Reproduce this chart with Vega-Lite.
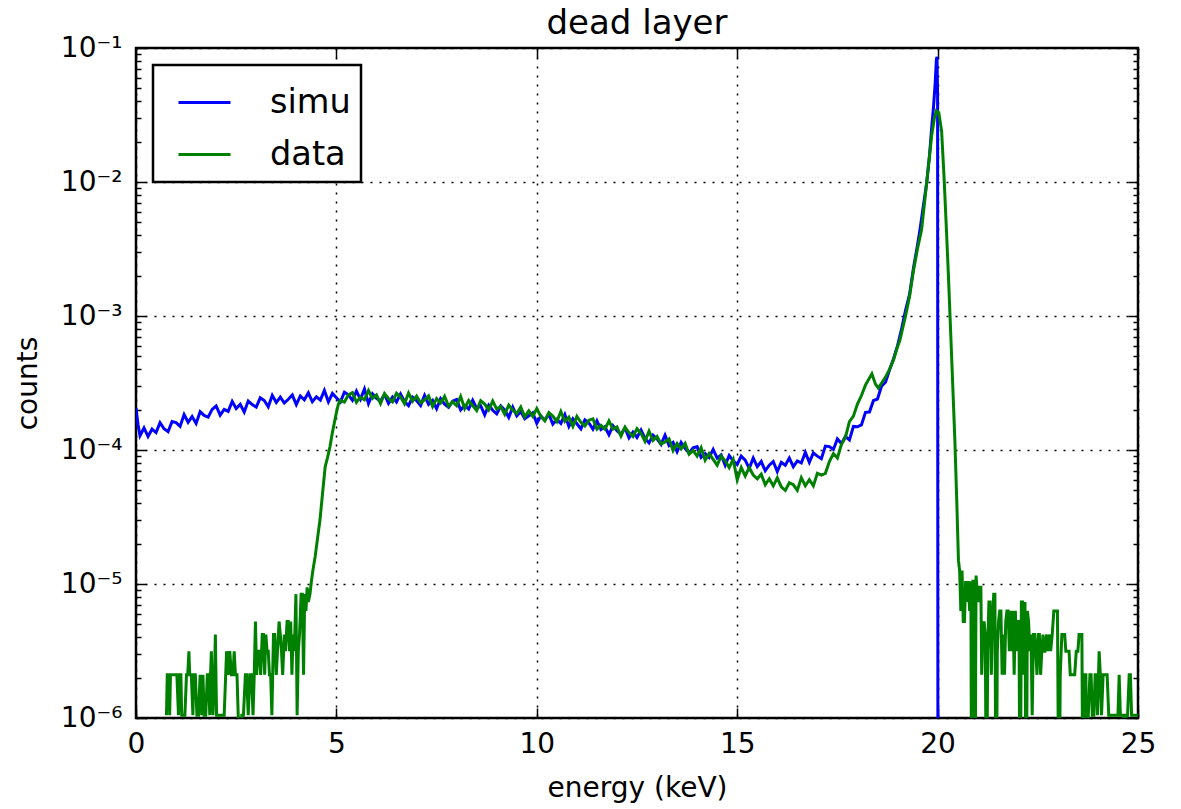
{
"$schema": "https://vega.github.io/schema/vega-lite/v6.json",
"width": 1002,
"height": 670,
"autosize": {"type": "none"},
"padding": {"left": 136, "top": 48, "right": 43, "bottom": 91},
"background": "white",
"config": {
  "font": "DejaVu Sans",
  "view": {"stroke": "black", "strokeWidth": 2.5},
  "axis": {"domain": false, "labelFont": "DejaVu Sans", "labelColor": "black", "titleColor": "black", "titleFont": "DejaVu Sans", "titleFontWeight": "normal", "tickColor": "black", "tickWidth": 1.5, "gridColor": "black", "gridDash": [2, 7], "gridWidth": 1.5, "labelFlush": false, "labelOverlap": false, "labelBound": false}
},
"title": {"text": "dead layer", "fontSize": 34, "fontWeight": "normal", "font": "DejaVu Sans", "color": "black", "offset": -7},
"datasets": {
"simu": [
{"e":0,"v":2.05e-4},{"e":0.05,"v":1.55e-4},{"e":0.1,"v":1.28e-4},{"e":0.2,"v":1.46e-4},{"e":0.3,"v":1.26e-4},{"e":0.4,"v":1.43e-4},{"e":0.5,"v":1.35e-4},{"e":0.6,"v":1.60e-4},{"e":0.7,"v":1.44e-4},{"e":0.8,"v":1.37e-4},{"e":0.9,"v":1.63e-4},
{"e":1.0,"v":1.60e-4},{"e":1.1,"v":1.50e-4},{"e":1.2,"v":1.84e-4},{"e":1.3,"v":1.61e-4},{"e":1.4,"v":1.78e-4},{"e":1.5,"v":1.58e-4},{"e":1.6,"v":1.93e-4},{"e":1.7,"v":1.81e-4},{"e":1.8,"v":1.76e-4},{"e":1.9,"v":2.01e-4},
{"e":2.0,"v":2.13e-4},{"e":2.1,"v":1.82e-4},{"e":2.2,"v":2.01e-4},{"e":2.3,"v":1.94e-4},{"e":2.4,"v":2.30e-4},{"e":2.5,"v":2.04e-4},{"e":2.6,"v":2.19e-4},{"e":2.7,"v":1.92e-4},{"e":2.8,"v":2.32e-4},{"e":2.9,"v":2.18e-4},
{"e":3.0,"v":2.09e-4},{"e":3.1,"v":2.45e-4},{"e":3.2,"v":2.34e-4},{"e":3.3,"v":2.10e-4},{"e":3.4,"v":2.56e-4},{"e":3.5,"v":2.26e-4},{"e":3.6,"v":2.48e-4},{"e":3.7,"v":2.24e-4},{"e":3.8,"v":2.39e-4},{"e":3.9,"v":2.57e-4},
{"e":4.0,"v":2.18e-4},{"e":4.1,"v":2.53e-4},{"e":4.2,"v":2.37e-4},{"e":4.3,"v":2.67e-4},{"e":4.4,"v":2.29e-4},{"e":4.5,"v":2.49e-4},{"e":4.6,"v":2.36e-4},{"e":4.7,"v":2.78e-4},{"e":4.8,"v":2.29e-4},{"e":4.9,"v":2.64e-4},
{"e":5.0,"v":2.45e-4},{"e":5.1,"v":2.28e-4},{"e":5.2,"v":2.70e-4},{"e":5.3,"v":2.58e-4},{"e":5.4,"v":2.35e-4},{"e":5.5,"v":2.75e-4},{"e":5.6,"v":2.39e-4},{"e":5.7,"v":2.85e-4},{"e":5.8,"v":2.22e-4},{"e":5.9,"v":2.63e-4},
{"e":6.0,"v":2.43e-4},{"e":6.1,"v":2.32e-4},{"e":6.2,"v":2.60e-4},{"e":6.3,"v":2.23e-4},{"e":6.4,"v":2.48e-4},{"e":6.5,"v":2.28e-4},{"e":6.6,"v":2.62e-4},{"e":6.7,"v":2.30e-4},{"e":6.8,"v":2.14e-4},{"e":6.9,"v":2.48e-4},
{"e":7.0,"v":2.34e-4},{"e":7.1,"v":2.15e-4},{"e":7.2,"v":2.56e-4},{"e":7.3,"v":2.19e-4},{"e":7.4,"v":2.35e-4},{"e":7.5,"v":2.03e-4},{"e":7.6,"v":2.42e-4},{"e":7.7,"v":2.20e-4},{"e":7.8,"v":2.08e-4},{"e":7.9,"v":2.31e-4},
{"e":8.0,"v":2.38e-4},{"e":8.1,"v":1.99e-4},{"e":8.2,"v":2.15e-4},{"e":8.3,"v":2.02e-4},{"e":8.4,"v":2.35e-4},{"e":8.5,"v":2.04e-4},{"e":8.6,"v":2.14e-4},{"e":8.7,"v":1.83e-4},{"e":8.8,"v":2.16e-4},{"e":8.9,"v":1.98e-4},
{"e":9.0,"v":1.86e-4},{"e":9.1,"v":2.13e-4},{"e":9.2,"v":1.99e-4},{"e":9.3,"v":1.75e-4},{"e":9.4,"v":2.09e-4},{"e":9.5,"v":1.80e-4},{"e":9.6,"v":1.94e-4},{"e":9.7,"v":1.71e-4},{"e":9.8,"v":1.80e-4},{"e":9.9,"v":1.89e-4},
{"e":10.0,"v":1.58e-4},{"e":10.1,"v":1.80e-4},{"e":10.2,"v":1.67e-4},{"e":10.3,"v":1.85e-4},{"e":10.4,"v":1.56e-4},{"e":10.5,"v":1.69e-4},{"e":10.6,"v":1.58e-4},{"e":10.7,"v":1.84e-4},{"e":10.8,"v":1.50e-4},{"e":10.9,"v":1.71e-4},
{"e":11.0,"v":1.57e-4},{"e":11.1,"v":1.44e-4},{"e":11.2,"v":1.68e-4},{"e":11.3,"v":1.59e-4},{"e":11.4,"v":1.43e-4},{"e":11.5,"v":1.65e-4},{"e":11.6,"v":1.42e-4},{"e":11.7,"v":1.49e-4},{"e":11.8,"v":1.30e-4},{"e":11.9,"v":1.52e-4},
{"e":12.0,"v":1.39e-4},{"e":12.1,"v":1.31e-4},{"e":12.2,"v":1.46e-4},{"e":12.3,"v":1.23e-4},{"e":12.4,"v":1.36e-4},{"e":12.5,"v":1.24e-4},{"e":12.6,"v":1.41e-4},{"e":12.7,"v":1.22e-4},{"e":12.8,"v":1.13e-4},{"e":12.9,"v":1.29e-4},
{"e":13.0,"v":1.21e-4},{"e":13.1,"v":1.10e-4},{"e":13.2,"v":1.29e-4},{"e":13.3,"v":1.08e-4},{"e":13.4,"v":1.14e-4},{"e":13.5,"v":0.97e-4},{"e":13.6,"v":1.14e-4},{"e":13.7,"v":1.03e-4},{"e":13.8,"v":0.95e-4},{"e":13.9,"v":1.04e-4},
{"e":14.0,"v":1.06e-4},{"e":14.1,"v":0.88e-4},{"e":14.2,"v":0.94e-4},{"e":14.3,"v":0.88e-4},{"e":14.4,"v":1.01e-4},{"e":14.5,"v":0.87e-4},{"e":14.6,"v":0.92e-4},{"e":14.7,"v":0.77e-4},{"e":14.8,"v":0.91e-4},{"e":14.9,"v":0.83e-4},
{"e":15.0,"v":0.78e-4},{"e":15.1,"v":0.90e-4},{"e":15.2,"v":0.84e-4},{"e":15.3,"v":0.73e-4},{"e":15.4,"v":0.87e-4},{"e":15.5,"v":0.75e-4},{"e":15.6,"v":0.82e-4},{"e":15.7,"v":0.70e-4},{"e":15.8,"v":0.77e-4},{"e":15.9,"v":0.82e-4},
{"e":16.0,"v":0.69e-4},{"e":16.1,"v":0.81e-4},{"e":16.2,"v":0.77e-4},{"e":16.3,"v":0.87e-4},{"e":16.4,"v":0.75e-4},{"e":16.5,"v":0.83e-4},{"e":16.6,"v":0.80e-4},{"e":16.7,"v":0.96e-4},{"e":16.8,"v":0.81e-4},{"e":16.9,"v":0.95e-4},
{"e":17.0,"v":0.90e-4},{"e":17.1,"v":0.86e-4},{"e":17.2,"v":1.07e-4},{"e":17.3,"v":1.06e-4},{"e":17.4,"v":1.01e-4},{"e":17.5,"v":1.21e-4},{"e":17.6,"v":1.12e-4},{"e":17.7,"v":1.26e-4},{"e":17.8,"v":1.19e-4},{"e":17.9,"v":1.50e-4},
{"e":18.0,"v":1.49e-4},{"e":18.1,"v":1.54e-4},{"e":18.2,"v":1.91e-4},{"e":18.3,"v":1.92e-4},{"e":18.4,"v":2.34e-4},{"e":18.5,"v":2.40e-4},{"e":18.6,"v":2.99e-4},{"e":18.7,"v":3.20e-4},{"e":18.8,"v":3.95e-4},{"e":18.9,"v":4.8e-4},
{"e":19.0,"v":6.0e-4},{"e":19.1,"v":8.0e-4},{"e":19.2,"v":1.1e-3},{"e":19.3,"v":1.45e-3},{"e":19.4,"v":2.3e-3},{"e":19.5,"v":3.4e-3},{"e":19.56,"v":4.4e-3},{"e":19.65,"v":6.8e-3},{"e":19.73,"v":1.0e-2},{"e":19.8,"v":1.6e-2},
{"e":19.85,"v":2.5e-2},{"e":19.9,"v":3.7e-2},{"e":19.94,"v":5.5e-2},{"e":19.97,"v":8.2e-2},{"e":19.985,"v":8.6e-2},{"e":20.0,"v":4.5e-2},{"e":20.01,"v":1e-8}
],
"data": [
{"e":0.76,"v":1.05e-6},{"e":0.78,"v":2.1e-6},{"e":0.82,"v":2.1e-6},{"e":0.84,"v":1.05e-6},{"e":0.86,"v":2.1e-6},{"e":0.90,"v":2.1e-6},{"e":0.94,"v":2.1e-6},{"e":0.98,"v":2.1e-6},{"e":1.02,"v":2.1e-6},{"e":1.06,"v":1.05e-6},
{"e":1.08,"v":2.1e-6},{"e":1.12,"v":2.1e-6},{"e":1.14,"v":1.05e-6},{"e":1.18,"v":1.05e-6},{"e":1.22,"v":1.05e-6},{"e":1.26,"v":2.1e-6},{"e":1.29,"v":2.1e-6},{"e":1.32,"v":3.15e-6},{"e":1.34,"v":2.1e-6},{"e":1.38,"v":2.1e-6},
{"e":1.42,"v":1.05e-6},{"e":1.44,"v":2.1e-6},{"e":1.48,"v":2.1e-6},{"e":1.52,"v":1.05e-6},{"e":1.56,"v":1.05e-6},{"e":1.60,"v":2.1e-6},{"e":1.64,"v":1.05e-6},{"e":1.67,"v":2.1e-6},{"e":1.70,"v":1.05e-6},{"e":1.74,"v":1.05e-6},
{"e":1.78,"v":2.1e-6},{"e":1.81,"v":2.1e-6},{"e":1.84,"v":1.05e-6},{"e":1.86,"v":2.1e-6},{"e":1.88,"v":3.15e-6},{"e":1.92,"v":1.05e-6},{"e":1.96,"v":2.1e-6},{"e":1.98,"v":4.2e-6},{"e":2.01,"v":1.05e-6},{"e":2.05,"v":1.05e-6},
{"e":2.10,"v":1.05e-6},{"e":2.15,"v":1.05e-6},{"e":2.20,"v":1.05e-6},{"e":2.26,"v":3.15e-6},{"e":2.30,"v":2.1e-6},{"e":2.34,"v":3.15e-6},{"e":2.38,"v":2.1e-6},{"e":2.42,"v":2.1e-6},{"e":2.45,"v":3.15e-6},{"e":2.48,"v":2.1e-6},
{"e":2.52,"v":2.1e-6},{"e":2.55,"v":1.05e-6},{"e":2.60,"v":1e-7},{"e":2.64,"v":1.05e-6},{"e":2.68,"v":1.05e-6},{"e":2.73,"v":2.1e-6},{"e":2.76,"v":2.1e-6},{"e":2.80,"v":1.05e-6},{"e":2.84,"v":2.1e-6},{"e":2.88,"v":2.1e-6},
{"e":2.92,"v":1.05e-6},{"e":2.95,"v":2.1e-6},{"e":2.98,"v":5.25e-6},{"e":3.01,"v":2.1e-6},{"e":3.04,"v":3.15e-6},{"e":3.08,"v":3.15e-6},{"e":3.11,"v":2.1e-6},{"e":3.15,"v":4.2e-6},{"e":3.18,"v":4.2e-6},{"e":3.21,"v":2.1e-6},
{"e":3.24,"v":4.2e-6},{"e":3.27,"v":3.15e-6},{"e":3.30,"v":3.15e-6},{"e":3.33,"v":2.1e-6},{"e":3.36,"v":2.1e-6},{"e":3.39,"v":1.05e-6},{"e":3.43,"v":4.2e-6},{"e":3.46,"v":4.2e-6},{"e":3.50,"v":2.1e-6},{"e":3.53,"v":3.15e-6},
{"e":3.57,"v":5.25e-6},{"e":3.60,"v":4.2e-6},{"e":3.63,"v":3.15e-6},{"e":3.66,"v":2.1e-6},{"e":3.70,"v":4.2e-6},{"e":3.73,"v":3.15e-6},{"e":3.77,"v":5.25e-6},{"e":3.80,"v":5.25e-6},{"e":3.83,"v":3.15e-6},{"e":3.86,"v":5.25e-6},
{"e":3.89,"v":2.1e-6},{"e":3.92,"v":4.2e-6},{"e":3.95,"v":3.15e-6},{"e":3.99,"v":8.4e-6},{"e":4.02,"v":1.05e-6},{"e":4.05,"v":3.15e-6},{"e":4.08,"v":4.2e-6},{"e":4.12,"v":8.4e-6},{"e":4.15,"v":8.4e-6},{"e":4.18,"v":2.1e-6},
{"e":4.21,"v":8.4e-6},{"e":4.24,"v":6.3e-6},{"e":4.27,"v":9.45e-6},{"e":4.30,"v":7.35e-6},{"e":4.34,"v":8.4e-6},{"e":4.38,"v":1.07e-5},{"e":4.42,"v":1.3e-5},{"e":4.47,"v":1.6e-5},{"e":4.53,"v":2.2e-5},{"e":4.59,"v":3.0e-5},
{"e":4.65,"v":4.6e-5},{"e":4.72,"v":7.5e-5},{"e":4.78,"v":8.8e-5},{"e":4.84,"v":1.06e-4},{"e":4.9,"v":1.35e-4},{"e":4.95,"v":1.6e-4},{"e":5.0,"v":1.9e-4},{"e":5.05,"v":2.2e-4},{"e":5.1,"v":2.35e-4},{"e":5.2,"v":2.28e-4},
{"e":5.3,"v":2.58e-4},{"e":5.4,"v":2.68e-4},{"e":5.5,"v":2.27e-4},{"e":5.6,"v":2.48e-4},{"e":5.7,"v":2.37e-4},{"e":5.8,"v":2.78e-4},{"e":5.9,"v":2.43e-4},
{"e":6.0,"v":2.58e-4},{"e":6.1,"v":2.22e-4},{"e":6.2,"v":2.63e-4},{"e":6.3,"v":2.42e-4},{"e":6.4,"v":2.29e-4},{"e":6.5,"v":2.65e-4},{"e":6.6,"v":2.49e-4},{"e":6.7,"v":2.21e-4},{"e":6.8,"v":2.66e-4},{"e":6.9,"v":2.31e-4},
{"e":7.0,"v":2.52e-4},{"e":7.1,"v":2.25e-4},{"e":7.2,"v":2.37e-4},{"e":7.3,"v":2.53e-4},{"e":7.4,"v":2.11e-4},{"e":7.5,"v":2.42e-4},{"e":7.6,"v":2.24e-4},{"e":7.7,"v":2.51e-4},{"e":7.8,"v":2.12e-4},{"e":7.9,"v":2.29e-4},
{"e":8.0,"v":2.14e-4},{"e":8.1,"v":2.51e-4},{"e":8.2,"v":2.04e-4},{"e":8.3,"v":2.34e-4},{"e":8.4,"v":2.15e-4},{"e":8.5,"v":1.97e-4},{"e":8.6,"v":2.33e-4},{"e":8.7,"v":2.20e-4},{"e":8.8,"v":1.99e-4},{"e":8.9,"v":2.32e-4},
{"e":9.0,"v":2.02e-4},{"e":9.1,"v":2.11e-4},{"e":9.2,"v":1.85e-4},{"e":9.3,"v":2.16e-4},{"e":9.4,"v":1.98e-4},{"e":9.5,"v":1.87e-4},{"e":9.6,"v":2.09e-4},{"e":9.7,"v":1.77e-4},{"e":9.8,"v":1.96e-4},{"e":9.9,"v":1.78e-4},
{"e":10.0,"v":2.04e-4},{"e":10.1,"v":1.78e-4},{"e":10.2,"v":1.65e-4},{"e":10.3,"v":1.90e-4},{"e":10.4,"v":1.79e-4},{"e":10.5,"v":1.63e-4},{"e":10.6,"v":1.94e-4},{"e":10.7,"v":1.64e-4},{"e":10.8,"v":1.76e-4},{"e":10.9,"v":1.50e-4},
{"e":11.0,"v":1.78e-4},{"e":11.1,"v":1.61e-4},{"e":11.2,"v":1.51e-4},{"e":11.3,"v":1.67e-4},{"e":11.4,"v":1.71e-4},{"e":11.5,"v":1.43e-4},{"e":11.6,"v":1.53e-4},{"e":11.7,"v":1.43e-4},{"e":11.8,"v":1.65e-4},{"e":11.9,"v":1.43e-4},
{"e":12.0,"v":1.49e-4},{"e":12.1,"v":1.27e-4},{"e":12.2,"v":1.48e-4},{"e":12.3,"v":1.35e-4},{"e":12.4,"v":1.26e-4},{"e":12.5,"v":1.44e-4},{"e":12.6,"v":1.33e-4},{"e":12.7,"v":1.16e-4},{"e":12.8,"v":1.38e-4},{"e":12.9,"v":1.18e-4},
{"e":13.0,"v":1.26e-4},{"e":13.1,"v":1.11e-4},{"e":13.2,"v":1.15e-4},{"e":13.3,"v":1.21e-4},{"e":13.4,"v":0.99e-4},{"e":13.5,"v":1.12e-4},{"e":13.6,"v":1.02e-4},{"e":13.7,"v":1.12e-4},{"e":13.8,"v":0.93e-4},{"e":13.9,"v":0.99e-4},
{"e":14.0,"v":0.90e-4},{"e":14.1,"v":1.04e-4},{"e":14.2,"v":0.84e-4},{"e":14.3,"v":0.94e-4},{"e":14.4,"v":0.85e-4},{"e":14.5,"v":0.77e-4},{"e":14.6,"v":0.90e-4},{"e":14.7,"v":0.83e-4},{"e":14.8,"v":0.74e-4},{"e":14.9,"v":0.85e-4},
{"e":15.0,"v":0.60e-4},{"e":15.1,"v":0.74e-4},{"e":15.2,"v":0.64e-4},{"e":15.3,"v":0.74e-4},{"e":15.4,"v":0.65e-4},{"e":15.5,"v":0.61e-4},{"e":15.6,"v":0.66e-4},{"e":15.7,"v":0.55e-4},{"e":15.8,"v":0.61e-4},{"e":15.9,"v":0.54e-4},
{"e":16.0,"v":0.62e-4},{"e":16.1,"v":0.53e-4},{"e":16.2,"v":0.50e-4},{"e":16.3,"v":0.57e-4},{"e":16.4,"v":0.55e-4},{"e":16.5,"v":0.50e-4},{"e":16.6,"v":0.62e-4},{"e":16.7,"v":0.54e-4},{"e":16.8,"v":0.60e-4},{"e":16.9,"v":0.54e-4},
{"e":17.0,"v":0.67e-4},{"e":17.1,"v":0.65e-4},{"e":17.2,"v":0.67e-4},{"e":17.3,"v":0.82e-4},{"e":17.4,"v":0.94e-4},{"e":17.5,"v":0.87e-4},{"e":17.6,"v":1.10e-4},{"e":17.7,"v":1.24e-4},{"e":17.8,"v":1.63e-4},{"e":17.9,"v":1.79e-4},
{"e":18.0,"v":2.2e-4},{"e":18.1,"v":2.55e-4},{"e":18.2,"v":3.05e-4},{"e":18.3,"v":3.45e-4},{"e":18.36,"v":3.7e-4},{"e":18.45,"v":3.1e-4},{"e":18.52,"v":2.9e-4},{"e":18.6,"v":3.15e-4},{"e":18.7,"v":3.5e-4},{"e":18.8,"v":4.0e-4},
{"e":18.9,"v":4.7e-4},{"e":19.0,"v":5.9e-4},{"e":19.06,"v":6.6e-4},{"e":19.2,"v":1.0e-3},{"e":19.3,"v":1.4e-3},{"e":19.4,"v":2.2e-3},{"e":19.5,"v":3.2e-3},{"e":19.6,"v":4.4e-3},{"e":19.73,"v":1.0e-2},{"e":19.85,"v":2.2e-2},
{"e":19.92,"v":3.0e-2},{"e":19.97,"v":3.4e-2},{"e":20.03,"v":3.3e-2},{"e":20.1,"v":2.4e-2},{"e":20.16,"v":1.1e-2},{"e":20.22,"v":4.4e-3},{"e":20.27,"v":2.0e-3},{"e":20.31,"v":1.0e-3},{"e":20.37,"v":3.5e-4},{"e":20.43,"v":1.2e-4},
{"e":20.48,"v":4.0e-5},{"e":20.52,"v":1.5e-5},
{"e":20.55,"v":1.26e-5},{"e":20.58,"v":6.3e-6},{"e":20.61,"v":1.26e-5},{"e":20.64,"v":5.25e-6},{"e":20.67,"v":5.25e-6},{"e":20.70,"v":1.05e-5},{"e":20.73,"v":7.35e-6},{"e":20.76,"v":1.05e-5},{"e":20.80,"v":6.3e-6},{"e":20.83,"v":1.05e-5},
{"e":20.85,"v":1e-7},{"e":20.88,"v":1.05e-5},{"e":20.91,"v":1.05e-5},{"e":20.93,"v":1e-7},{"e":20.96,"v":1.155e-5},{"e":20.99,"v":8.4e-6},{"e":21.02,"v":7.35e-6},{"e":21.05,"v":9.45e-6},{"e":21.08,"v":9.45e-6},{"e":21.10,"v":2.1e-6},
{"e":21.13,"v":4.2e-6},{"e":21.16,"v":5.25e-6},{"e":21.19,"v":4.2e-6},{"e":21.22,"v":1e-7},{"e":21.25,"v":3.15e-6},{"e":21.28,"v":7.35e-6},{"e":21.31,"v":7.35e-6},{"e":21.34,"v":2.1e-6},{"e":21.37,"v":5.25e-6},{"e":21.40,"v":8.4e-6},
{"e":21.43,"v":8.4e-6},{"e":21.46,"v":1e-7},{"e":21.49,"v":3.15e-6},{"e":21.52,"v":5.25e-6},{"e":21.55,"v":6.3e-6},{"e":21.58,"v":6.3e-6},{"e":21.61,"v":2.1e-6},{"e":21.64,"v":4.2e-6},{"e":21.67,"v":2.1e-6},{"e":21.70,"v":5.25e-6},
{"e":21.73,"v":6.3e-6},{"e":21.76,"v":6.3e-6},{"e":21.79,"v":3.15e-6},{"e":21.82,"v":6.3e-6},{"e":21.85,"v":3.15e-6},{"e":21.88,"v":6.3e-6},{"e":21.91,"v":2.1e-6},{"e":21.94,"v":6.3e-6},{"e":21.97,"v":3.15e-6},{"e":22.00,"v":5.25e-6},
{"e":22.03,"v":5.25e-6},{"e":22.06,"v":1e-7},{"e":22.09,"v":7.35e-6},{"e":22.12,"v":7.35e-6},{"e":22.15,"v":2.1e-6},{"e":22.18,"v":7.35e-6},{"e":22.21,"v":1e-7},{"e":22.24,"v":6.3e-6},{"e":22.27,"v":5.25e-6},{"e":22.30,"v":3.15e-6},
{"e":22.33,"v":4.2e-6},{"e":22.36,"v":1.05e-6},{"e":22.39,"v":4.2e-6},{"e":22.42,"v":4.2e-6},{"e":22.45,"v":3.15e-6},{"e":22.48,"v":2.1e-6},{"e":22.51,"v":4.2e-6},{"e":22.54,"v":4.2e-6},{"e":22.57,"v":2.1e-6},{"e":22.60,"v":3.15e-6},
{"e":22.63,"v":4.2e-6},{"e":22.66,"v":3.15e-6},{"e":22.68,"v":3.15e-6},{"e":22.72,"v":4.2e-6},{"e":22.75,"v":3.15e-6},{"e":22.78,"v":4.2e-6},{"e":22.82,"v":3.15e-6},{"e":22.86,"v":4.2e-6},{"e":22.90,"v":6.3e-6},{"e":22.93,"v":6.3e-6},
{"e":22.96,"v":6.3e-6},{"e":22.99,"v":6.3e-6},{"e":23.03,"v":1e-7},{"e":23.06,"v":2.1e-6},{"e":23.10,"v":4.2e-6},{"e":23.13,"v":4.2e-6},{"e":23.17,"v":4.2e-6},{"e":23.20,"v":3.15e-6},{"e":23.24,"v":3.15e-6},{"e":23.28,"v":3.15e-6},
{"e":23.31,"v":2.1e-6},{"e":23.35,"v":2.1e-6},{"e":23.38,"v":2.1e-6},{"e":23.42,"v":2.1e-6},{"e":23.46,"v":3.15e-6},{"e":23.50,"v":3.15e-6},{"e":23.53,"v":4.2e-6},{"e":23.57,"v":4.2e-6},{"e":23.60,"v":4.2e-6},{"e":23.63,"v":1e-7},
{"e":23.67,"v":2.1e-6},{"e":23.70,"v":2.1e-6},{"e":23.73,"v":1e-7},{"e":23.76,"v":1.05e-6},{"e":23.80,"v":2.1e-6},{"e":23.83,"v":2.1e-6},{"e":23.86,"v":1.05e-6},{"e":23.90,"v":1.05e-6},{"e":23.93,"v":2.1e-6},{"e":23.96,"v":2.1e-6},
{"e":23.99,"v":1.05e-6},{"e":24.03,"v":3.15e-6},{"e":24.06,"v":2.1e-6},{"e":24.09,"v":1.05e-6},{"e":24.13,"v":2.1e-6},{"e":24.16,"v":2.1e-6},{"e":24.20,"v":2.1e-6},{"e":24.23,"v":2.1e-6},{"e":24.27,"v":1.05e-6},{"e":24.30,"v":1.05e-6},
{"e":24.35,"v":1.05e-6},{"e":24.40,"v":1.05e-6},{"e":24.45,"v":1.05e-6},{"e":24.50,"v":1.05e-6},{"e":24.53,"v":2.1e-6},{"e":24.56,"v":1.05e-6},{"e":24.60,"v":1.05e-6},{"e":24.63,"v":1.05e-6},{"e":24.67,"v":1e-7},{"e":24.70,"v":1.05e-6},
{"e":24.74,"v":1.05e-6},{"e":24.78,"v":2.1e-6},{"e":24.81,"v":2.1e-6},{"e":24.84,"v":1.05e-6},{"e":24.88,"v":1.05e-6},{"e":24.92,"v":1.05e-6},{"e":24.96,"v":1.05e-6},{"e":25.0,"v":1.05e-6}
]
},
"layer": [
{
  "data": {"name": "simu"},
  "mark": {"type": "line", "clip": true, "strokeWidth": 3},
  "encoding": {
    "x": {"field": "e", "type": "quantitative", "scale": {"domain": [0, 25], "nice": false, "zero": false},
      "axis": {"orient": "bottom", "values": [0, 5, 10, 15, 20, 25], "title": "energy (keV)", "titleFontSize": 28, "labelFontSize": 28, "tickSize": -10, "labelPadding": 22, "titlePadding": 16, "grid": true}},
    "y": {"field": "v", "type": "quantitative", "scale": {"type": "log", "domain": [1e-6, 0.1], "nice": false},
      "axis": {"orient": "left", "title": "counts", "titleFontSize": 28, "labelFontSize": 28, "titlePadding": 18, "labelPadding": 24,
        "values": [1e-6,2e-6,3e-6,4e-6,5e-6,6e-6,7e-6,8e-6,9e-6,1e-5,2e-5,3e-5,4e-5,5e-5,6e-5,7e-5,8e-5,9e-5,1e-4,2e-4,3e-4,4e-4,5e-4,6e-4,7e-4,8e-4,9e-4,1e-3,2e-3,3e-3,4e-3,5e-3,6e-3,7e-3,8e-3,9e-3,1e-2,2e-2,3e-2,4e-2,5e-2,6e-2,7e-2,8e-2,9e-2,1e-1],
        "labelExpr": "abs(log(datum.value)/LN10 - round(log(datum.value)/LN10)) < 0.01 ? '10' + ['⁰','⁻¹','⁻²','⁻³','⁻⁴','⁻⁵','⁻⁶'][-round(log(datum.value)/LN10)] : ''",
        "grid": true,
        "gridOpacity": {"condition": {"test": "abs(log(datum.value)/LN10 - round(log(datum.value)/LN10)) < 0.01", "value": 1}, "value": 0},
        "tickSize": {"condition": {"test": "abs(log(datum.value)/LN10 - round(log(datum.value)/LN10)) < 0.01", "value": -10}, "value": -5}}},
    "color": {"datum": "simu", "type": "nominal", "scale": {"domain": ["simu", "data"], "range": ["#0000ff", "#008000"]},
      "legend": {"orient": "none", "legendX": 17, "legendY": 17, "title": null, "strokeColor": "black", "fillColor": "white", "padding": 10, "symbolType": "stroke", "symbolSize": 2704, "symbolStrokeWidth": 3, "symbolOffset": 14, "labelFontSize": 33.6, "labelFont": "DejaVu Sans", "labelColor": "black", "labelOffset": 38, "rowPadding": 7, "labelLimit": 0,
        "encode": {"legend": {"update": {"strokeWidth": {"value": 2.5}}}}}}
  }
},
{
  "data": {"name": "data"},
  "mark": {"type": "line", "clip": true, "strokeWidth": 3},
  "encoding": {
    "x": {"field": "e", "type": "quantitative", "scale": {"domain": [0, 25], "nice": false, "zero": false},
      "axis": {"orient": "top", "values": [0, 5, 10, 15, 20, 25], "title": null, "labels": false, "tickSize": -10, "grid": false}},
    "y": {"field": "v", "type": "quantitative", "scale": {"type": "log", "domain": [1e-6, 0.1], "nice": false},
      "axis": {"orient": "right", "title": null, "labels": false, "grid": false,
        "values": [1e-6,2e-6,3e-6,4e-6,5e-6,6e-6,7e-6,8e-6,9e-6,1e-5,2e-5,3e-5,4e-5,5e-5,6e-5,7e-5,8e-5,9e-5,1e-4,2e-4,3e-4,4e-4,5e-4,6e-4,7e-4,8e-4,9e-4,1e-3,2e-3,3e-3,4e-3,5e-3,6e-3,7e-3,8e-3,9e-3,1e-2,2e-2,3e-2,4e-2,5e-2,6e-2,7e-2,8e-2,9e-2,1e-1],
        "tickSize": {"condition": {"test": "abs(log(datum.value)/LN10 - round(log(datum.value)/LN10)) < 0.01", "value": -10}, "value": -5}}},
    "color": {"datum": "data", "type": "nominal"}
  }
}
],
"resolve": {"axis": {"x": "independent", "y": "independent"}}
}
